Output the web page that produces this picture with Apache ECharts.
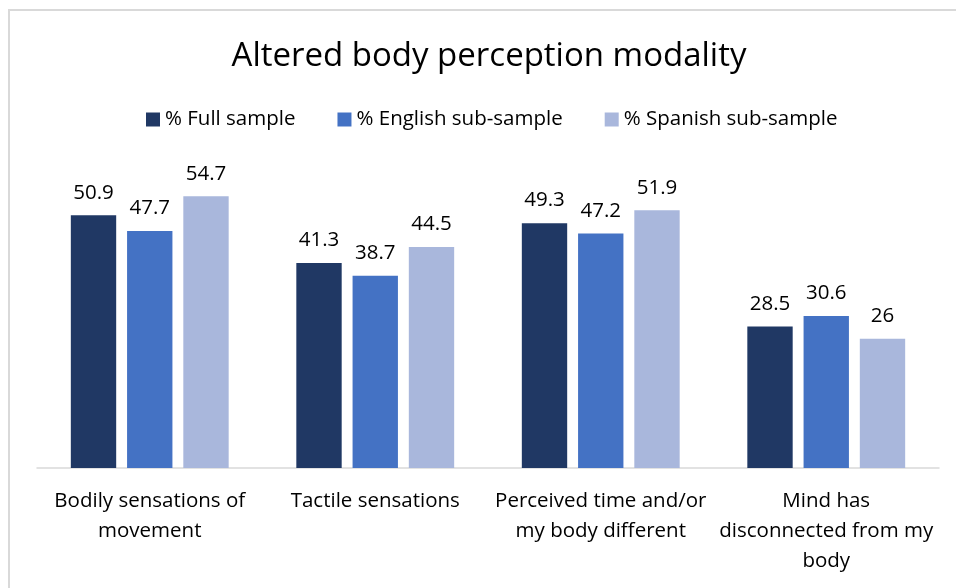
<!DOCTYPE html>
<html>
<head>
<meta charset="utf-8">
<script src="https://cdn.jsdelivr.net/npm/echarts@6/dist/echarts.min.js"></script>
<style>
  html, body { margin: 0; padding: 0; background: #fff; }
  #chart { width: 956px; height: 588px; }
</style>
</head>
<body>
<div id="chart"></div>
<script>
var categories = [
  'Bodily sensations of\nmovement',
  'Tactile sensations',
  'Perceived time and/or\nmy body different',
  'Mind has\ndisconnected from my\nbody'
];
var seriesNames = ['% Full sample', '% English sub-sample', '% Spanish sub-sample'];
var fullSample = [50.9, 41.3, 49.3, 28.5];
var englishSample = [47.7, 38.7, 47.2, 30.6];
var spanishSample = [54.7, 44.5, 51.9, 26];
var colors = ['#203864', '#4472C4', '#A9B7DC'];

var myChart = echarts.init(document.getElementById('chart'));

var font = '"Open Sans", "Noto Sans", sans-serif';

function makeSeries(name, data, color) {
  return {
    name: name,
    type: 'bar',
    data: data,
    barGap: '24%',
    barCategoryGap: '30%',
    itemStyle: { color: color },
    label: {
      show: true,
      position: 'top',
      distance: 12,
      color: '#000',
      fontSize: 20.5,
      fontFamily: font
    }
  };
}

myChart.setOption({
  animation: false,
  color: colors,
  graphic: [{
    type: 'rect',
    shape: { x: 9, y: 10, width: 1000, height: 700 },
    style: { fill: 'none', stroke: '#d9d9d9', lineWidth: 2 },
    silent: true
  }],
  title: {
    text: 'Altered body perception modality',
    left: 484,
    textAlign: 'center',
    top: 35,
    textStyle: { fontSize: 33, fontWeight: 'normal', color: '#000', fontFamily: font }
  },
  legend: {
    top: 104,
    left: 141,
    itemWidth: 14,
    itemHeight: 14,
    itemGap: 42,
    icon: 'rect',
    textStyle: { fontSize: 20.5, color: '#000', fontFamily: font },
    data: seriesNames
  },
  grid: {
    left: 37,
    right: 17,
    top: 170,
    bottom: 120,
    containLabel: false
  },
  xAxis: {
    type: 'category',
    data: categories,
    axisLine: { lineStyle: { color: '#d9d9d9', width: 1.5 } },
    axisTick: { show: false },
    axisLabel: {
      color: '#000',
      fontSize: 20.5,
      lineHeight: 30,
      margin: 18,
      fontFamily: font,
      interval: 0
    }
  },
  yAxis: {
    type: 'value',
    min: 0,
    max: 60,
    show: false,
    splitLine: { show: false }
  },
  series: [
    makeSeries(seriesNames[0], fullSample, colors[0]),
    makeSeries(seriesNames[1], englishSample, colors[1]),
    makeSeries(seriesNames[2], spanishSample, colors[2])
  ]
});
</script>
</body>
</html>
